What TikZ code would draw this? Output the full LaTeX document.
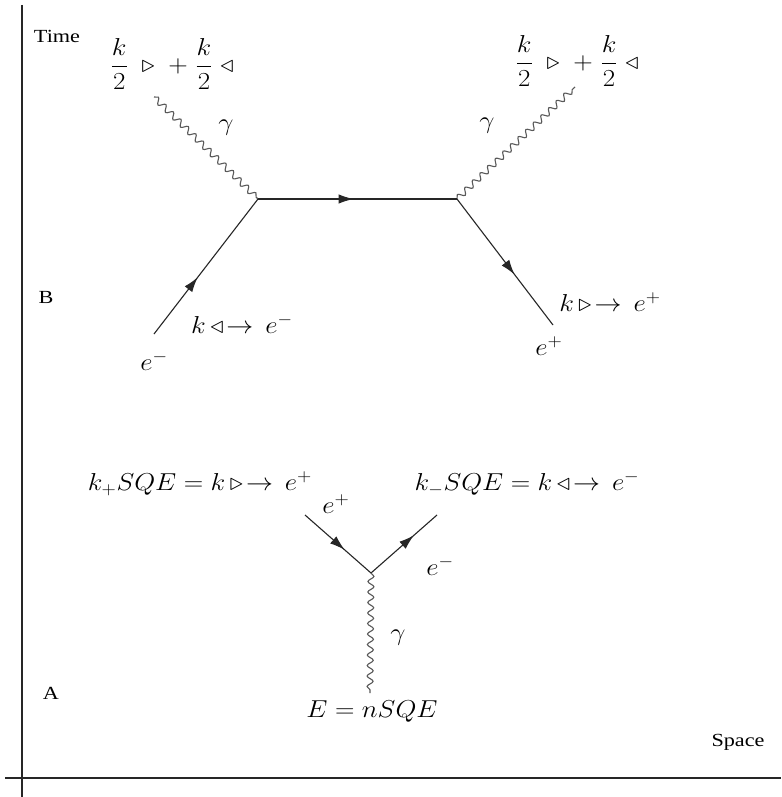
\documentclass[tikz,border=0pt]{standalone}
\usepackage{amsmath}
\usepackage{fontspec}
\setmainfont[FakeStretch=1.2]{Liberation Serif}
\usetikzlibrary{decorations.pathmorphing,decorations.markings,arrows.meta}
\tikzset{
  photon/.style={decorate,decoration={snake,amplitude=3pt,segment length=10.5pt},draw=black!65,line width=1.1pt},
  fermion/.style={draw=black!85,line width=1.1pt,postaction={decorate},
    decoration={markings,mark=at position #1 with {\arrow{Latex[length=15pt,width=9.5pt]}}}},
  fermion/.default=0.5,
  axis/.style={draw=black!85,line width=1.4pt},
  lbl/.style={font=\fontsize{18.5}{21}\selectfont,inner sep=0pt},
  mth/.style={font=\fontsize{20.74}{25}\selectfont,inner sep=0pt},
  gam/.style={font=\fontsize{20.74}{25}\selectfont,inner sep=0pt},
}
\newcommand{\hs}[1]{\scalebox{1.3}[1.18]{#1}}
\begin{document}
\begin{tikzpicture}[x=1pt,y=-1pt]
\useasboundingbox (0,0) rectangle (781,797);
\fill[white] (0,0) rectangle (781,797);
% axes
\coordinate (yt) at (22,5);
\coordinate (yb) at (22,797);
\coordinate (xl) at (5,778);
\coordinate (xr) at (781,778);
\draw[axis] (yt) -- (yb);
\draw[axis] (xl) -- (xr);
\node[lbl] (time) at (57,36) {Time};
\node[lbl] (space) at (738,742) {Space};
\node[lbl] (B) at (46,297) {B};
\node[lbl] (A) at (51,693) {A};
% diagram B
\coordinate (v1) at (258,199);
\coordinate (v2) at (457,199);
\coordinate (p1) at (154,97);
\coordinate (p2) at (575,87);
\coordinate (e1) at (154,334);
\coordinate (e2) at (553,325);
\draw[photon] (p1) -- (v1);
\draw[photon] (v2) -- (p2);
\draw[fermion=0.48] (v1) -- (v2);
\draw[fermion=0.42] (e1) -- (v1);
\draw[fermion=0.6] (v2) -- (e2);
\node[mth] (lt) at (172,64) {\hs{$\displaystyle \frac{k}{2}\;\triangleright\;+\;\frac{k}{2}\;\triangleleft$}};
\node[mth] (rt) at (577,61) {\hs{$\displaystyle \frac{k}{2}\;\triangleright\;+\;\frac{k}{2}\;\triangleleft$}};
\node[gam] (g1) at (226,128) {\hs{$\gamma$}};
\node[gam] (g2) at (487,126) {\hs{$\gamma$}};
\node[mth] (kl) at (242,324) {\hs{$k\,\triangleleft\!\rightarrow\, e^{-}$}};
\node[mth] (em) at (154,361) {\hs{$e^{-}$}};
\node[mth] (kr) at (610,302) {\hs{$k\,\triangleright\!\rightarrow\, e^{+}$}};
\node[mth] (ep) at (549,346) {\hs{$e^{+}$}};
% diagram A
\coordinate (v3) at (371,573);
\coordinate (a1) at (305,515);
\coordinate (a2) at (437,515);
\coordinate (a3) at (370,693);
\draw[fermion=0.6] (a1) -- (v3);
\draw[fermion=0.65] (v3) -- (a2);
\draw[photon] (v3) -- (a3);
\node[mth] (kp) at (200,484) {\hs{$k_{+}SQE=k\,\triangleright\!\rightarrow\, e^{+}$}};
\node[mth] (km) at (527,484) {\hs{$k_{-}SQE=k\,\triangleleft\!\rightarrow\, e^{-}$}};
\node[mth] (ep2) at (336,504) {\hs{$e^{+}$}};
\node[mth] (em2) at (440,566) {\hs{$e^{-}$}};
\node[gam] (g3) at (398,638) {\hs{$\gamma$}};
\node[mth] (E) at (372,712) {\hs{$E=nSQE$}};
\end{tikzpicture}
\end{document}
